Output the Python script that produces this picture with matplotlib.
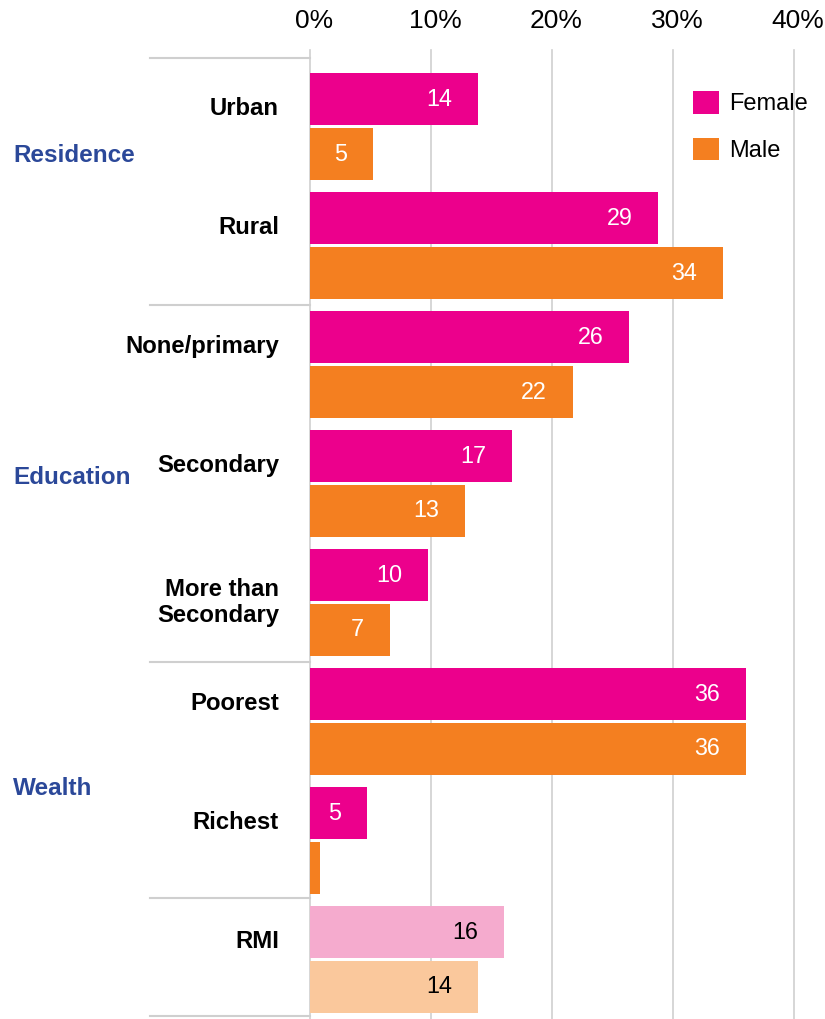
import matplotlib
matplotlib.use('Agg')
import matplotlib.pyplot as plt
import matplotlib.transforms as mtransforms
from matplotlib.patches import Patch
import numpy as np

plt.rcParams['font.family'] = ['Liberation Sans', 'DejaVu Sans']

# prevalence by background characteristic, % (labels are rounded values)
categories = ['Urban', 'Rural', 'None/primary', 'Secondary', 'More than\nSecondary',
              'Poorest', 'Richest', 'RMI']
female = [13.9, 28.8, 26.4, 16.7, 9.75, 36.0, 4.7, 16.0]
male = [5.2, 34.1, 21.7, 12.8, 6.6, 36.0, 0.8, 13.9]
show_male_label = [True, True, True, True, True, True, False, True]

groups = ['Residence', 'Education', 'Wealth']
group_label_y = [0.24, 2.95, 5.56]     # in category units
separators = [-0.576, 1.5, 4.5, 6.48, 7.475]
x_ticks = [0, 10, 20, 30, 40]

FEMALE = '#EC008C'
MALE = '#F47F20'
FEMALE_LIGHT = '#F5ABCE'
MALE_LIGHT = '#FAC89C'
GROUP_BLUE = '#2B4899'
GRID = '#CFCFCF'

fig = plt.figure(figsize=(8.25, 10.19), dpi=100)
ax = fig.add_axes([310 / 825, 0, (794 - 310) / 825, 1 - 50 / 1019])

y = np.arange(len(categories))
off = 0.231
h = 0.437

f_colors = [FEMALE] * (len(categories) - 1) + [FEMALE_LIGHT]
m_colors = [MALE] * (len(categories) - 1) + [MALE_LIGHT]
f_bars = ax.barh(y - off, female, height=h, color=f_colors, zorder=3)
m_bars = ax.barh(y + off, male, height=h, color=m_colors, zorder=3)

def label_bars(bars, vals, show=None):
    for i, (b, v) in enumerate(zip(bars, vals)):
        if show is not None and not show[i]:
            continue
        col = 'black' if i == len(vals) - 1 else 'white'
        ax.annotate('{:.0f}'.format(v), xy=(v, b.get_y() + b.get_height() / 2),
                    xytext=(-18.5, 0), textcoords='offset points',
                    ha='right', va='center', fontsize=16.8, color=col, zorder=4)

label_bars(f_bars, female)
label_bars(m_bars, male, show_male_label)

for xv in x_ticks:
    ax.axvline(xv, color=GRID, lw=1.2, zorder=1, clip_on=False)

ax.set_xlim(0, 40)
ax.set_ylim(7.5, -0.643)
ax.xaxis.tick_top()
ax.set_xticks(x_ticks)
ax.set_xticklabels(['{}%'.format(t) for t in x_ticks], fontsize=19)
ax.tick_params(axis='x', length=0, pad=12)
for lbl in ax.get_xticklabels():
    lbl.set_transform(lbl.get_transform() + mtransforms.ScaledTranslation(4 / 100, 0, fig.dpi_scale_trans))
ax.set_yticks([])
for s in ax.spines.values():
    s.set_visible(False)

# row labels and group separators left of the bars
trans = mtransforms.blended_transform_factory(ax.transAxes, ax.transData)
for yi, cat in zip(y, categories):
    dy = 0 if '\n' in cat else -0.15
    ax.text(-31 / 484, yi + dy, cat, transform=trans, ha='right', va='center',
            fontsize=17.2, fontweight='bold', linespacing=1.15)

for sy in separators:
    ax.plot([-160 / 484, 0], [sy, sy], transform=trans, color=GRID, lw=1.5,
            clip_on=False, zorder=1)

for g, gy in zip(groups, group_label_y):
    ax.text(-297 / 484, gy, g, transform=trans, ha='left', va='center',
            fontsize=17.5, fontweight='bold', color=GROUP_BLUE)

handles = [Patch(facecolor=FEMALE, label='Female'), Patch(facecolor=MALE, label='Male')]
ax.legend(handles=handles, loc='upper left', bbox_to_anchor=(383 / 484, 1 - 41 / 969),
          frameon=False, fontsize=17, handlelength=1.1, handleheight=1.1,
          handletextpad=0.45, labelspacing=0.95, borderaxespad=0, borderpad=0)

fig.savefig('out.png', dpi=100)
